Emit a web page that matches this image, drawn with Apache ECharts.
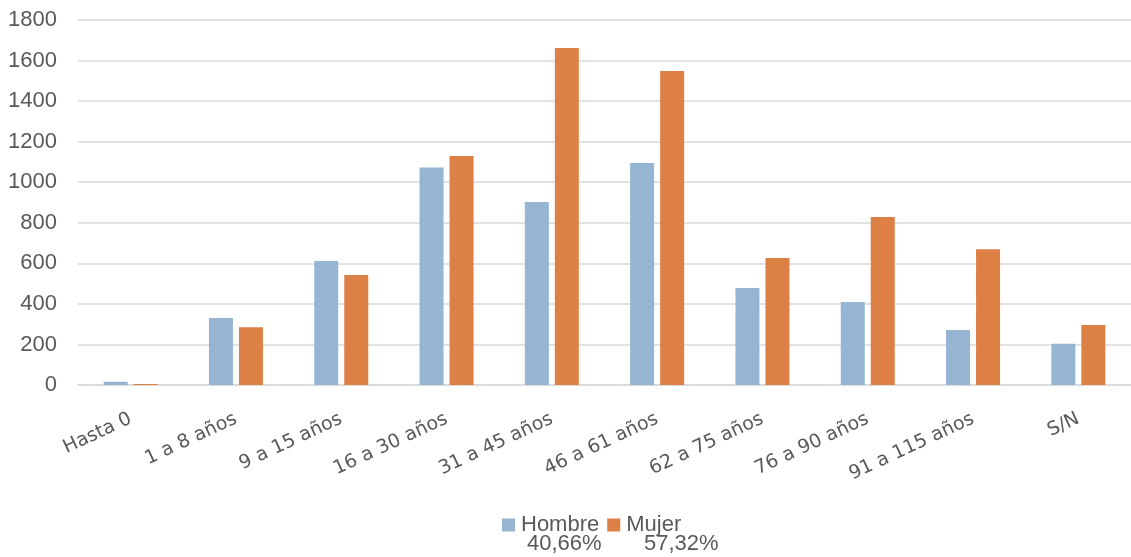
<!DOCTYPE html>
<html>
<head>
<meta charset="utf-8">
<script src="https://cdn.jsdelivr.net/npm/echarts@6/dist/echarts.min.js"></script>
<style>
html,body{margin:0;padding:0;background:#fff;}
#chart{width:1131px;height:557px;}
</style>
</head>
<body>
<div id="chart"></div>
<script>
const categories = ['Hasta 0','1 a 8 años','9 a 15 años','16 a 30 años','31 a 45 años','46 a 61 años','62 a 75 años','76 a 90 años','91 a 115 años','S/N'];
const seriesNames = ['Hombre','Mujer'];
const hombre = [16, 330, 611, 1073, 902, 1095, 478, 409, 271, 203];
const mujer = [5, 285, 542, 1129, 1662, 1548, 626, 828, 670, 296];
const shares = ['40,66%','57,32%'];
const yTicks = [0,200,400,600,800,1000,1200,1400,1600,1800];

const chart = echarts.init(document.getElementById('chart'), null, {renderer:'canvas'});
const colors = ['#95B5D2','#DD8045'];
chart.setOption({
  animation:false,
  color: colors,
  grid:{left:78, top:20, width:1060, height:365, containLabel:false},
  xAxis:{
    type:'category',
    data:categories,
    axisLine:{show:true, lineStyle:{color:'#D9D9D9', width:1.5}},
    axisTick:{show:false},
    axisLabel:{rotate:25, margin:33, fontSize:19, color:'#595959', fontFamily:'DejaVu Sans', interval:0}
  },
  yAxis:{
    type:'value',
    min:yTicks[0], max:yTicks[yTicks.length-1], interval:200,
    axisLine:{show:false},
    axisTick:{show:false},
    splitLine:{lineStyle:{color:'#D9D9D9', width:1.5}},
    axisLabel:{margin:21, fontSize:22, color:'#595959', fontFamily:'Liberation Sans', formatter:function(v){return String(v);}}
  },
  legend:{
    data:seriesNames,
    left:497, top:509,
    itemWidth:13, itemHeight:13, itemGap:8,
    icon:'rect',
    textStyle:{fontSize:22, color:'#595959', fontFamily:'Liberation Sans', padding:[0,0,0,1]}
  },
  graphic:[
    {type:'text', left:527, top:533, style:{text:shares[0], fontSize:22, fill:'#595959', fontFamily:'Liberation Sans'}},
    {type:'text', left:644, top:533, style:{text:shares[1], fontSize:22, fill:'#595959', fontFamily:'Liberation Sans'}}
  ],
  series:[
    {name:seriesNames[0], type:'bar', data:hombre, barWidth:24, barGap:'25%'},
    {name:seriesNames[1], type:'bar', data:mujer, barWidth:24, barGap:'25%'}
  ]
});
</script>
</body>
</html>
